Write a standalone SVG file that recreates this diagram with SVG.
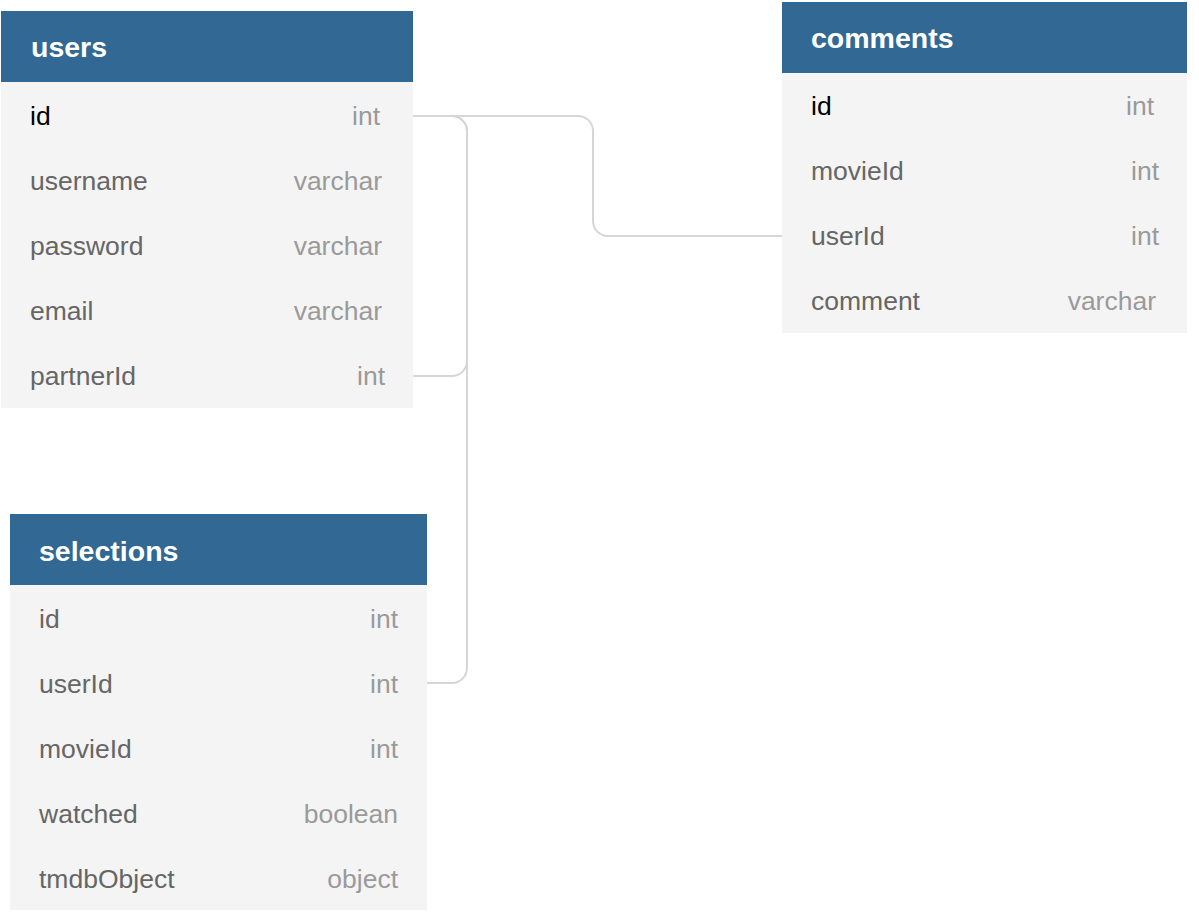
<svg xmlns="http://www.w3.org/2000/svg" width="1199" height="916" viewBox="0 0 1199 916">
<style>
.hdr{fill:#316894}
.body{fill:#f4f4f4}
.title{font-family:"Liberation Sans",Arial,sans-serif;font-weight:bold;font-size:28.5px;fill:#ffffff}
.f{font-family:"Liberation Sans",Arial,sans-serif;font-size:26.5px;fill:#666666}
.pk{fill:#000000}
.t{font-family:"Liberation Sans",Arial,sans-serif;font-size:26.5px;fill:#9a9a9a;text-anchor:end}
.conn{fill:none;stroke:#d6d6d6;stroke-width:2}
</style>
<rect width="1199" height="916" fill="#ffffff"/>
<g id="connectors">
<path class="conn" d="M413,116 H578 A15,15 0 0 1 593,131 V221 A15,15 0 0 0 608,236 H782"/>
<path class="conn" d="M413,116 H452 A15,15 0 0 1 467,131 V361 A15,15 0 0 1 452,376 H413"/>
<path class="conn" d="M413,116 H452 A15,15 0 0 1 467,131 V668 A15,15 0 0 1 452,683 H426"/>
</g>
<g id="users">
<rect class="body" x="1" y="82" width="412" height="326"/>
<rect class="hdr" x="1" y="11" width="412" height="71"/>
<text class="title" x="31" y="57">users</text>
<text class="f pk" x="30" y="125">id</text><text class="t" x="380" y="125">int</text>
<text class="f" x="30" y="190">username</text><text class="t" x="382" y="190">varchar</text>
<text class="f" x="30" y="255">password</text><text class="t" x="382" y="255">varchar</text>
<text class="f" x="30" y="320">email</text><text class="t" x="382" y="320">varchar</text>
<text class="f" x="30" y="385">partnerId</text><text class="t" x="385" y="385">int</text>
</g>
<g id="comments">
<rect class="body" x="782" y="73" width="405" height="260"/>
<rect class="hdr" x="782" y="2" width="405" height="71"/>
<text class="title" x="811" y="48">comments</text>
<text class="f pk" x="811" y="115">id</text><text class="t" x="1154" y="115">int</text>
<text class="f" x="811" y="180">movieId</text><text class="t" x="1159" y="180">int</text>
<text class="f" x="811" y="245">userId</text><text class="t" x="1159" y="245">int</text>
<text class="f" x="811" y="310">comment</text><text class="t" x="1156" y="310">varchar</text>
</g>
<g id="selections">
<rect class="body" x="10" y="585" width="417" height="325"/>
<rect class="hdr" x="10" y="514" width="417" height="71"/>
<text class="title" x="39" y="561">selections</text>
<text class="f" x="39" y="628">id</text><text class="t" x="398" y="628">int</text>
<text class="f" x="39" y="693">userId</text><text class="t" x="398" y="693">int</text>
<text class="f" x="39" y="758">movieId</text><text class="t" x="398" y="758">int</text>
<text class="f" x="39" y="823">watched</text><text class="t" x="398" y="823">boolean</text>
<text class="f" x="39" y="888">tmdbObject</text><text class="t" x="398" y="888">object</text>
</g>
</svg>
